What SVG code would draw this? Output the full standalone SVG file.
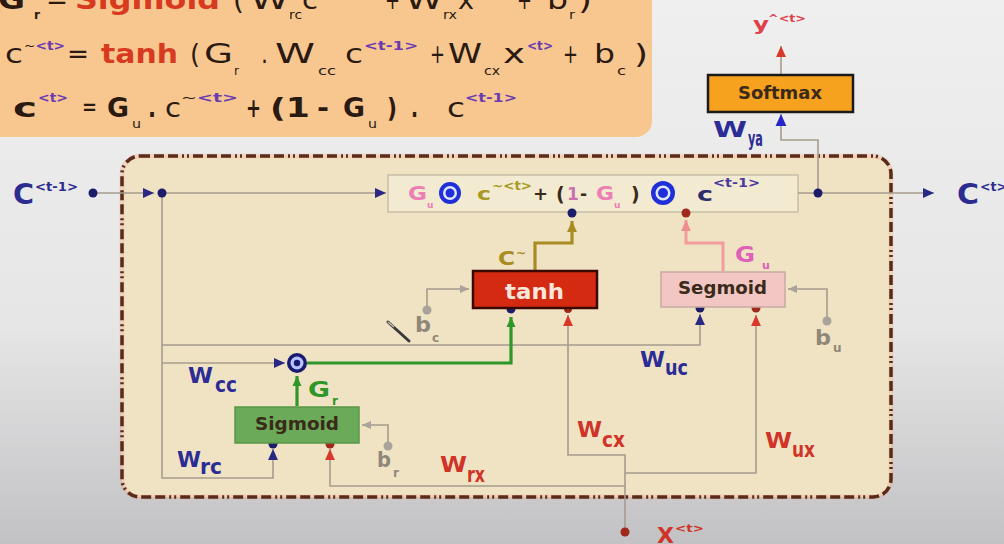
<svg xmlns="http://www.w3.org/2000/svg" width="1004" height="544" viewBox="0 0 1004 544">
<defs>
<linearGradient id="bg" x1="0" y1="0" x2="0" y2="1">
<stop offset="0" stop-color="#efefef"/>
<stop offset="0.6" stop-color="#e6e6e7"/>
<stop offset="1" stop-color="#c2c2c4"/>
</linearGradient>
<marker id="aNavy" viewBox="0 0 10 10" refX="10" refY="5" markerWidth="14" markerHeight="11" markerUnits="userSpaceOnUse" orient="auto"><path d="M0,0.5 L10,5 L0,9.5 z" fill="#2a2884"/></marker>
<marker id="aBlue" viewBox="0 0 10 10" refX="10" refY="5" markerWidth="14" markerHeight="12" markerUnits="userSpaceOnUse" orient="auto"><path d="M0,0.5 L10,5 L0,9.5 z" fill="#2626c8"/></marker>
<marker id="aRed" viewBox="0 0 10 10" refX="10" refY="5" markerWidth="14" markerHeight="11" markerUnits="userSpaceOnUse" orient="auto"><path d="M0,0.5 L10,5 L0,9.5 z" fill="#d8382a"/></marker>
<marker id="aGray" viewBox="0 0 10 10" refX="10" refY="5" markerWidth="12" markerHeight="9" markerUnits="userSpaceOnUse" orient="auto"><path d="M0,0.5 L10,5 L0,9.5 z" fill="#aaa39a"/></marker>
<marker id="aGreen" viewBox="0 0 10 10" refX="10" refY="5" markerWidth="12" markerHeight="10" markerUnits="userSpaceOnUse" orient="auto"><path d="M0,0.5 L10,5 L0,9.5 z" fill="#2f962a"/></marker>
<marker id="aOlive" viewBox="0 0 10 10" refX="10" refY="5" markerWidth="12" markerHeight="11" markerUnits="userSpaceOnUse" orient="auto"><path d="M0,0.5 L10,5 L0,9.5 z" fill="#a88c22"/></marker>
<marker id="aPink" viewBox="0 0 10 10" refX="10" refY="5" markerWidth="12" markerHeight="11" markerUnits="userSpaceOnUse" orient="auto"><path d="M0,0.5 L10,5 L0,9.5 z" fill="#f08c92"/></marker>
<style>
.ln{fill:none;stroke:#a69c8c;stroke-width:1.6}
.gr{fill:none;stroke:#2f962a;stroke-width:3.2}
.ol{fill:none;stroke:#a88c22;stroke-width:3.2}
.pk{fill:none;stroke:#f29c9c;stroke-width:3}
.dn{fill:#1c1c6a}
.dr{fill:#a0281c}
.dg{fill:#aaa39a}
text{font-family:"DejaVu Sans","Liberation Sans",sans-serif}
.eq{font-size:27px;fill:#2a1a12}
.eqb{font-size:26px;fill:#2a1a12;font-weight:bold}
.sub{font-size:12px}
.sup{font-size:13px;font-weight:bold;fill:#6a3cb0}
.til{fill:#2a1a12;font-weight:normal}
.red{fill:#d83a20;font-weight:bold}
.lb{font-weight:bold;font-size:22px}
.blue{fill:#2c2c96}
.rd{fill:#d03428}
.box{font-weight:bold;font-size:17px;fill:#3a2a1a}
</style>
</defs>
<rect x="0" y="0" width="1004" height="544" fill="url(#bg)"/>

<g id="equations">
<rect x="-20" y="-20" width="672" height="157" rx="16" fill="#f8c790"/>
<!-- line 1 -->
<text class="eq" x="-2" y="9" font-weight="bold" textLength="27" lengthAdjust="spacingAndGlyphs">G</text>
<text class="eq sub" x="34" y="19" font-weight="bold" textLength="6" lengthAdjust="spacingAndGlyphs">r</text>
<text class="eq" x="46" y="9" textLength="22" lengthAdjust="spacingAndGlyphs">=</text>
<text class="eq red" x="75" y="9" font-size="31" textLength="145" lengthAdjust="spacingAndGlyphs">Sigmoid</text>
<text class="eq" x="233" y="9" textLength="11" lengthAdjust="spacingAndGlyphs">(</text>
<text class="eq" x="250" y="9" textLength="39" lengthAdjust="spacingAndGlyphs">W</text>
<text class="eq sub" x="289" y="19" textLength="13" lengthAdjust="spacingAndGlyphs">rc</text>
<text class="eq" x="302" y="9" textLength="16" lengthAdjust="spacingAndGlyphs">c</text>
<text class="sup" x="318" y="-3" textLength="52" lengthAdjust="spacingAndGlyphs">&lt;t-1&gt;</text>
<text class="eq" x="385" y="9" textLength="15" lengthAdjust="spacingAndGlyphs">+</text>
<text class="eq" x="405" y="9" textLength="38" lengthAdjust="spacingAndGlyphs">W</text>
<text class="eq sub" x="443" y="19" textLength="14" lengthAdjust="spacingAndGlyphs">rx</text>
<text class="eq" x="458" y="9" textLength="16" lengthAdjust="spacingAndGlyphs">x</text>
<text class="sup" x="476" y="-3" textLength="26" lengthAdjust="spacingAndGlyphs">&lt;t&gt;</text>
<text class="eq" x="517" y="9" textLength="15" lengthAdjust="spacingAndGlyphs">+</text>
<text class="eq" x="547" y="9" textLength="21" lengthAdjust="spacingAndGlyphs">b</text>
<text class="eq sub" x="569" y="19" textLength="6" lengthAdjust="spacingAndGlyphs">r</text>
<text class="eq" x="578" y="9" textLength="14" lengthAdjust="spacingAndGlyphs">)</text>
<!-- line 2 -->
<text class="eq" x="5" y="63" textLength="18" lengthAdjust="spacingAndGlyphs">c</text>
<text class="sup" x="24" y="50" textLength="41" lengthAdjust="spacingAndGlyphs"><tspan class="til">~</tspan>&lt;t&gt;</text>
<text class="eq" x="67" y="63" textLength="22" lengthAdjust="spacingAndGlyphs">=</text>
<text class="eq red" x="101" y="63" font-size="30" textLength="77" lengthAdjust="spacingAndGlyphs">tanh</text>
<text class="eq" x="190" y="63" textLength="10" lengthAdjust="spacingAndGlyphs">(</text>
<text class="eq" x="204" y="63" textLength="29" lengthAdjust="spacingAndGlyphs">G</text>
<text class="eq sub" x="234" y="75" textLength="5" lengthAdjust="spacingAndGlyphs">r</text>
<text class="eq" x="261" y="63" textLength="7" lengthAdjust="spacingAndGlyphs">.</text>
<text class="eq" x="275" y="63" textLength="40" lengthAdjust="spacingAndGlyphs">W</text>
<text class="eq sub" x="318" y="75" textLength="18" lengthAdjust="spacingAndGlyphs">cc</text>
<text class="eq" x="345" y="63" textLength="18" lengthAdjust="spacingAndGlyphs">c</text>
<text class="sup" x="364" y="50" textLength="54" lengthAdjust="spacingAndGlyphs">&lt;t-1&gt;</text>
<text class="eq" x="430" y="63" textLength="15" lengthAdjust="spacingAndGlyphs">+</text>
<text class="eq" x="448" y="63" textLength="34" lengthAdjust="spacingAndGlyphs">W</text>
<text class="eq sub" x="484" y="75" textLength="16" lengthAdjust="spacingAndGlyphs">cx</text>
<text class="eq" x="503" y="63" textLength="22" lengthAdjust="spacingAndGlyphs">x</text>
<text class="sup" x="527" y="50" textLength="26" lengthAdjust="spacingAndGlyphs">&lt;t&gt;</text>
<text class="eq" x="563" y="63" textLength="15" lengthAdjust="spacingAndGlyphs">+</text>
<text class="eq" x="594" y="63" textLength="21" lengthAdjust="spacingAndGlyphs">b</text>
<text class="eq sub" x="617" y="75" textLength="9" lengthAdjust="spacingAndGlyphs">c</text>
<text class="eq" x="634" y="63" textLength="14" lengthAdjust="spacingAndGlyphs">)</text>
<!-- line 3 -->
<text class="eqb" x="13" y="117" textLength="24" lengthAdjust="spacingAndGlyphs">c</text>
<text class="sup" x="38" y="102" textLength="30" lengthAdjust="spacingAndGlyphs">&lt;t&gt;</text>
<text class="eq" x="82" y="116" font-size="17" textLength="15" lengthAdjust="spacingAndGlyphs">=</text>
<text class="eqb" x="107" y="117" textLength="22" lengthAdjust="spacingAndGlyphs">G</text>
<text class="eq sub" x="132" y="128" textLength="9" lengthAdjust="spacingAndGlyphs">u</text>
<text class="eqb" x="148" y="117" textLength="8" lengthAdjust="spacingAndGlyphs">.</text>
<text class="eq" x="165" y="117" font-size="25" textLength="16" lengthAdjust="spacingAndGlyphs">c</text>
<text class="sup" x="181" y="102" textLength="57" lengthAdjust="spacingAndGlyphs"><tspan class="til">~</tspan>&lt;t&gt;</text>
<text class="eqb" x="246" y="117" textLength="15" lengthAdjust="spacingAndGlyphs">+</text>
<text class="eqb" x="270" y="117" textLength="40" lengthAdjust="spacingAndGlyphs">(1</text>
<text class="eqb" x="317" y="117" textLength="12" lengthAdjust="spacingAndGlyphs">-</text>
<text class="eqb" x="343" y="117" textLength="22" lengthAdjust="spacingAndGlyphs">G</text>
<text class="eq sub" x="368" y="128" textLength="9" lengthAdjust="spacingAndGlyphs">u</text>
<text class="eqb" x="387" y="117" textLength="10" lengthAdjust="spacingAndGlyphs">)</text>
<text class="eqb" x="411" y="117" textLength="7" lengthAdjust="spacingAndGlyphs">.</text>
<text class="eq" x="447" y="117" font-size="25" textLength="18" lengthAdjust="spacingAndGlyphs">c</text>
<text class="sup" x="465" y="102" textLength="52" lengthAdjust="spacingAndGlyphs">&lt;t-1&gt;</text>
</g>

<g id="cell-boundary">
<rect x="122" y="156" width="769" height="341" rx="18" fill="#efe3c4" stroke="#f2a486" stroke-width="5" stroke-opacity="0.3"/>
<rect x="122" y="156" width="769" height="341" rx="18" fill="none" stroke="#5a2a1a" stroke-width="3.5" stroke-dasharray="10 4 10 4 10 4 2 3 2 4"/>
</g>

<g id="update-expression">
<rect x="388" y="175" width="410" height="37" fill="#f3ead2" stroke="#c8bea6" stroke-width="1.5"/>
<text x="408" y="200" font-size="19" font-weight="bold" fill="#ec80b4" textLength="19" lengthAdjust="spacingAndGlyphs">G</text>
<text x="427" y="208" font-size="9" font-weight="bold" fill="#ec80b4">u</text>
<circle cx="450" cy="193" r="11" fill="#2030d8"/><circle cx="450" cy="193" r="7" fill="#dfe6ff"/><circle cx="450" cy="193" r="4.5" fill="#2030d8"/>
<text x="477" y="200" font-size="18" font-weight="bold" fill="#a89a22" textLength="14" lengthAdjust="spacingAndGlyphs">c</text>
<text x="492" y="190" font-size="12" font-weight="bold" fill="#a89a22" textLength="40" lengthAdjust="spacingAndGlyphs">~&lt;t&gt;</text>
<text x="533" y="200" font-size="18" font-weight="bold" fill="#3a2a1a">+</text>
<text x="556" y="201" font-size="19" font-weight="bold" fill="#3a2a1a">(</text>
<text x="567" y="200" font-size="17" font-weight="bold" fill="#c870b0">1</text>
<text x="580" y="200" font-size="17" font-weight="bold" fill="#3a2a1a">-</text>
<text x="596" y="200" font-size="19" font-weight="bold" fill="#ec80b4" textLength="18" lengthAdjust="spacingAndGlyphs">G</text>
<text x="614" y="208" font-size="9" font-weight="bold" fill="#ec80b4">u</text>
<text x="631" y="201" font-size="19" font-weight="bold" fill="#3a2a1a">)</text>
<circle cx="663" cy="193" r="12" fill="#2030d8"/><circle cx="663" cy="193" r="7.5" fill="#dfe6ff"/><circle cx="663" cy="193" r="5" fill="#2030d8"/>
<text x="697" y="201" font-size="20" font-weight="bold" fill="#2c2c6c" textLength="16" lengthAdjust="spacingAndGlyphs">c</text>
<text x="713" y="187" font-size="12" font-weight="bold" fill="#4a3aa0" textLength="47" lengthAdjust="spacingAndGlyphs">&lt;t-1&gt;</text>
</g>

<g id="connectors">
<path class="ln" d="M93 193 H154" marker-end="url(#aNavy)"/>
<path class="ln" d="M162 193 H386" marker-end="url(#aNavy)"/>
<path class="ln" d="M798 193 H934" marker-end="url(#aNavy)"/>
<path class="ln" d="M818 193 V140 H781 V114" marker-end="url(#aBlue)"/>
<path class="ln" d="M781 75 V46" marker-end="url(#aRed)"/>
<path class="ol" d="M535 270 V243 H572 V221" marker-end="url(#aOlive)"/>
<path class="pk" d="M723 271 V243 H686 V220" marker-end="url(#aPink)"/>
<path class="ln" d="M427 310 V289 H469" marker-end="url(#aGray)"/>
<path class="ln" d="M827 321 V289 H788" marker-end="url(#aGray)"/>
<path class="ln" d="M388 446 V425 H362" marker-end="url(#aGray)"/>
<path class="ln" d="M162 193 V478 H273 V449" marker-end="url(#aNavy)"/>
<path class="ln" d="M162 345 H700 V314" marker-end="url(#aNavy)"/>
<path class="ln" d="M162 363 H285" marker-end="url(#aNavy)"/>
<path class="gr" d="M297 406 V376" marker-end="url(#aGreen)"/>
<path class="gr" d="M307 363 H511 V317" marker-end="url(#aGreen)"/>
<path class="ln" d="M625 486 H330 V449" marker-end="url(#aRed)"/>
<path class="ln" d="M625 532 V455 H568 V315" marker-end="url(#aRed)"/>
<path class="ln" d="M625 473 H756 V315" marker-end="url(#aRed)"/>
<line x1="388" y1="322" x2="409" y2="341" stroke="#3a3a3a" stroke-width="3" stroke-linecap="round"/>
<line x1="388" y1="322" x2="394" y2="327" stroke="#c9c0b0" stroke-width="1.5"/>
<circle class="dn" cx="93" cy="193" r="4.5"/>
<circle class="dn" cx="162" cy="193" r="4.5"/>
<circle class="dn" cx="818" cy="193" r="4.5"/>
<circle class="dn" cx="572" cy="213" r="4.5"/>
<circle class="dr" cx="686" cy="213" r="4.5"/>
<circle class="dg" cx="427" cy="310" r="4.5"/>
<circle class="dg" cx="827" cy="321" r="4.5"/>
<circle class="dg" cx="388" cy="446" r="4.5"/>
<circle class="dn" cx="273" cy="444" r="4.5"/>
<circle class="dr" cx="330" cy="444" r="4.5"/>
<circle class="dn" cx="511" cy="309" r="4.5"/>
<circle class="dr" cx="568" cy="309" r="4"/>
<circle class="dn" cx="700" cy="308" r="4.5"/>
<circle class="dr" cx="756" cy="308" r="4.5"/>
<circle class="dr" cx="625" cy="532" r="4.5"/>
<circle cx="297" cy="363" r="10" fill="#1a1a70"/><circle cx="297" cy="363" r="6.5" fill="#b6c4ff"/><circle cx="297" cy="363" r="3.2" fill="#1a1a70"/>
</g>

<g id="softmax">
<rect x="708" y="75" width="145" height="37" fill="#f7a21e" stroke="#1a1a1a" stroke-width="2.5"/>
<text class="box" x="738" y="99" textLength="84" lengthAdjust="spacingAndGlyphs">Softmax</text>
</g>
<g id="tanh">
<rect x="473" y="271" width="124" height="37" fill="#d42a12" stroke="#3a0800" stroke-width="2.5"/>
<text x="505" y="299" font-size="22" font-weight="bold" fill="#f8e6dc" textLength="59" lengthAdjust="spacingAndGlyphs">tanh</text>
</g>
<g id="segmoid">
<rect x="661" y="272" width="124" height="35" fill="#f2c6c2" stroke="#c8aaa2" stroke-width="1.5"/>
<text class="box" x="678" y="294" textLength="89" lengthAdjust="spacingAndGlyphs">Segmoid</text>
</g>
<g id="sigmoid">
<rect x="235" y="407" width="124" height="36" fill="#6aaa58" stroke="#5a9648" stroke-width="1.5"/>
<text class="box" x="255" y="430" textLength="84" lengthAdjust="spacingAndGlyphs" fill="#1f2a14">Sigmoid</text>
</g>

<g id="labels">
<text x="13" y="204" font-size="28" font-weight="bold" fill="#2c2c90" textLength="21" lengthAdjust="spacingAndGlyphs">C</text>
<text x="35" y="191" font-size="13" font-weight="bold" fill="#2c2c90" textLength="43" lengthAdjust="spacingAndGlyphs">&lt;t-1&gt;</text>
<text x="957" y="204" font-size="28" font-weight="bold" fill="#2c2c90" textLength="22" lengthAdjust="spacingAndGlyphs">C</text>
<text x="980" y="191" font-size="13" font-weight="bold" fill="#2c2c90" textLength="27" lengthAdjust="spacingAndGlyphs">&lt;t&gt;</text>
<text x="753" y="30" font-size="18" font-weight="bold" fill="#e0404a" textLength="16" lengthAdjust="spacingAndGlyphs">y</text>
<text x="768" y="22" font-size="11" font-weight="bold" fill="#e0404a" textLength="38" lengthAdjust="spacingAndGlyphs">^&lt;t&gt;</text>
<text x="657" y="543" font-size="21" font-weight="bold" fill="#d03428" textLength="17" lengthAdjust="spacingAndGlyphs">X</text>
<text x="675" y="532" font-size="11" font-weight="bold" fill="#d03428" textLength="29" lengthAdjust="spacingAndGlyphs">&lt;t&gt;</text>
<text class="lb blue" x="713" y="137" textLength="34" lengthAdjust="spacingAndGlyphs">W</text>
<text class="lb blue" x="748" y="146" font-size="13" textLength="15" lengthAdjust="spacingAndGlyphs">ya</text>
<text class="lb blue" x="188" y="383" textLength="25" lengthAdjust="spacingAndGlyphs">W</text>
<text class="lb blue" x="215" y="392" font-size="13" textLength="22" lengthAdjust="spacingAndGlyphs">cc</text>
<text class="lb blue" x="177" y="467" textLength="24" lengthAdjust="spacingAndGlyphs">W</text>
<text class="lb blue" x="200" y="474" font-size="13" textLength="22" lengthAdjust="spacingAndGlyphs">rc</text>
<text class="lb blue" x="640" y="367" textLength="25" lengthAdjust="spacingAndGlyphs">W</text>
<text class="lb blue" x="665" y="375" font-size="13" textLength="23" lengthAdjust="spacingAndGlyphs">uc</text>
<text class="lb rd" x="440" y="472" textLength="27" lengthAdjust="spacingAndGlyphs">W</text>
<text class="lb rd" x="467" y="482" font-size="13" textLength="18" lengthAdjust="spacingAndGlyphs">rx</text>
<text class="lb rd" x="577" y="437" textLength="25" lengthAdjust="spacingAndGlyphs">W</text>
<text class="lb rd" x="602" y="447" font-size="13" textLength="23" lengthAdjust="spacingAndGlyphs">cx</text>
<text class="lb rd" x="765" y="448" textLength="27" lengthAdjust="spacingAndGlyphs">W</text>
<text class="lb rd" x="792" y="457" font-size="13" textLength="23" lengthAdjust="spacingAndGlyphs">ux</text>
<text x="415" y="332" font-size="22" font-weight="bold" fill="#8f8878" textLength="16" lengthAdjust="spacingAndGlyphs">b</text>
<text x="432" y="342" font-size="12" font-weight="bold" fill="#8f8878">c</text>
<text x="377" y="467" font-size="22" font-weight="bold" fill="#8f8878" textLength="14" lengthAdjust="spacingAndGlyphs">b</text>
<text x="393" y="477" font-size="12" font-weight="bold" fill="#8f8878">r</text>
<text x="815" y="345" font-size="22" font-weight="bold" fill="#8f8878" textLength="16" lengthAdjust="spacingAndGlyphs">b</text>
<text x="833" y="352" font-size="12" font-weight="bold" fill="#8f8878">u</text>
<text x="308" y="397" font-size="22" font-weight="bold" fill="#2f962a" textLength="22" lengthAdjust="spacingAndGlyphs">G</text>
<text x="332" y="405" font-size="12" font-weight="bold" fill="#2f962a">r</text>
<text x="735" y="262" font-size="21" font-weight="bold" fill="#e060b8" textLength="20" lengthAdjust="spacingAndGlyphs">G</text>
<text x="762" y="269" font-size="11" font-weight="bold" fill="#e060b8">u</text>
<text x="498" y="265" font-size="20" font-weight="bold" fill="#a88c22" textLength="17" lengthAdjust="spacingAndGlyphs">C</text>
<text x="516" y="257" font-size="12" font-weight="bold" fill="#a88c22">~</text>
</g>
</svg>
